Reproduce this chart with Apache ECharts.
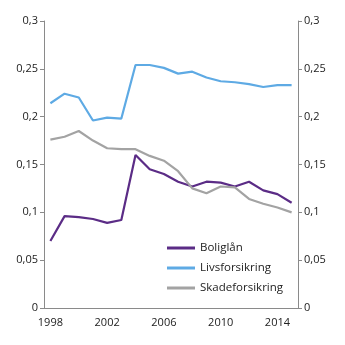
<!DOCTYPE html>
<html><head><meta charset="utf-8">
<script src="https://cdn.jsdelivr.net/npm/echarts@6/dist/echarts.min.js"></script>
<style>html,body{margin:0;padding:0;background:#fff}#c{width:345px;height:345px}</style>
</head><body><div id="c"></div>
<script>
const years = [1998,1999,2000,2001,2002,2003,2004,2005,2006,2007,2008,2009,2010,2011,2012,2013,2014,2015];
const xTickLabels = [1998,2002,2006,2010,2014];
const yTicks = [0,0.05,0.1,0.15,0.2,0.25,0.3];
const boliglan = [0.070,0.096,0.095,0.093,0.089,0.092,0.160,0.145,0.140,0.132,0.127,0.132,0.131,0.127,0.132,0.123,0.119,0.110];
const livsforsikring = [0.214,0.224,0.220,0.196,0.199,0.198,0.254,0.254,0.251,0.245,0.247,0.241,0.237,0.236,0.234,0.231,0.233,0.233];
const skadeforsikring = [0.176,0.179,0.185,0.175,0.167,0.166,0.166,0.159,0.154,0.143,0.125,0.120,0.127,0.126,0.114,0.109,0.105,0.100];
const names = ['Boliglån','Livsforsikring','Skadeforsikring'];
const colors = ['#5b2c86','#5eaae4','#a3a3a3'];

const font = '"Open Sans", sans-serif';
const fmtY = v => String(+(+v).toFixed(2)).replace('.', ',');
const pair = arr => years.map((y,i)=>[y,arr[i]]);
const yAxisBase = {
  type:'value', min:0, max:0.3, interval:0.05,
  splitLine:{show:false},
  axisLine:{show:true, lineStyle:{color:'#8a8a8a', width:1}},
  axisTick:{show:true, length:4, lineStyle:{color:'#8a8a8a'}},
  axisLabel:{color:'#222', fontSize:11, fontFamily:font, formatter:fmtY, margin:6}
};
const chart = echarts.init(document.getElementById('c'), null, {renderer:'canvas'});
chart.setOption({
  animation:false,
  grid:{left:44, right:47, top:21, bottom:37, containLabel:false},
  xAxis:{
    type:'value', min:1997.55, max:2015.45,
    splitLine:{show:false},
    axisLine:{show:true, lineStyle:{color:'#8a8a8a'}},
    axisTick:{show:false},
    axisLabel:{color:'#222', fontSize:11, fontFamily:font, margin:9, customValues:xTickLabels, formatter:v=>String(v)}
  },
  yAxis:[Object.assign({position:'left'}, yAxisBase), Object.assign({position:'right'}, yAxisBase)],
  legend:{
    orient:'vertical', left:162, top:236, icon:'rect', itemWidth:28, itemHeight:3, itemGap:6,
    textStyle:{color:'#222', fontSize:11.5, fontFamily:font, lineHeight:14},
    data:names
  },
  series:[boliglan, livsforsikring, skadeforsikring].map((arr,i)=>({
    name:names[i], type:'line', data:pair(arr), showSymbol:false, symbol:'none',
    lineStyle:{color:colors[i], width:2.2}, itemStyle:{color:colors[i]}
  }))
});
</script></body></html>
